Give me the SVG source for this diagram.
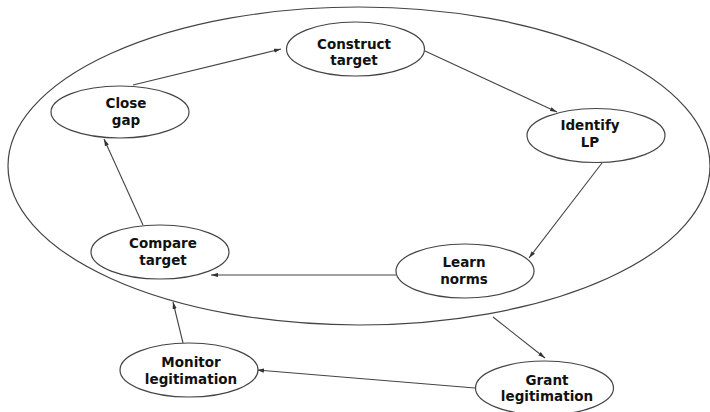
<svg xmlns="http://www.w3.org/2000/svg" width="710" height="412" viewBox="0 0 710 412">
<style>
.n ellipse{fill:#fff;stroke:#444;stroke-width:1.2}
.n text{font-family:"DejaVu Sans",Verdana,sans-serif;font-weight:bold;font-size:13.5px;fill:#111;text-anchor:middle}
.c line{stroke:#444;stroke-width:1.1;marker-end:url(#ah)}
</style>
<defs>
<marker id="ah" viewBox="0 0 10 6" refX="10" refY="3" markerWidth="7" markerHeight="4.5" orient="auto" markerUnits="userSpaceOnUse">
<path d="M0,0 L10,3 L0,6 z" fill="#333"/>
</marker>
</defs>
<rect width="710" height="412" fill="#fff"/>
<g id="outer"><ellipse cx="359" cy="166" rx="351" ry="159" fill="none" stroke="#444" stroke-width="1.2"/></g>
<g class="c" id="connectors">
<line x1="133" y1="85" x2="281" y2="49"/>
<line x1="425" y1="51" x2="557" y2="112"/>
<line x1="602" y1="163" x2="529" y2="258"/>
<line x1="396" y1="275" x2="211" y2="275"/>
<line x1="143" y1="225" x2="104" y2="139"/>
<line x1="183" y1="343" x2="173" y2="302"/>
<line x1="493" y1="317" x2="545" y2="358"/>
<line x1="475" y1="388" x2="257" y2="370"/>
</g>
<g class="n" id="construct"><ellipse cx="355.5" cy="49" rx="69" ry="27"/><text x="354" y="49">Construct</text><text x="354" y="65">target</text></g>
<g class="n" id="closegap"><ellipse cx="120" cy="112" rx="69" ry="26"/><text x="126" y="108">Close</text><text x="126" y="125">gap</text></g>
<g class="n" id="identify"><ellipse cx="596" cy="135.5" rx="69" ry="27"/><text x="590" y="130">Identify</text><text x="590" y="147">LP</text></g>
<g class="n" id="compare"><ellipse cx="160" cy="252" rx="69" ry="27"/><text x="163" y="248">Compare</text><text x="163" y="265">target</text></g>
<g class="n" id="learn"><ellipse cx="465" cy="271" rx="69" ry="27"/><text x="464" y="267">Learn</text><text x="464" y="284">norms</text></g>
<g class="n" id="monitor"><ellipse cx="189" cy="370" rx="69" ry="27"/><text x="191" y="367">Monitor</text><text x="191" y="384">legitimation</text></g>
<g class="n" id="grant"><ellipse cx="544.5" cy="388" rx="69" ry="27"/><text x="547" y="385">Grant</text><text x="547" y="401">legitimation</text></g>
</svg>
